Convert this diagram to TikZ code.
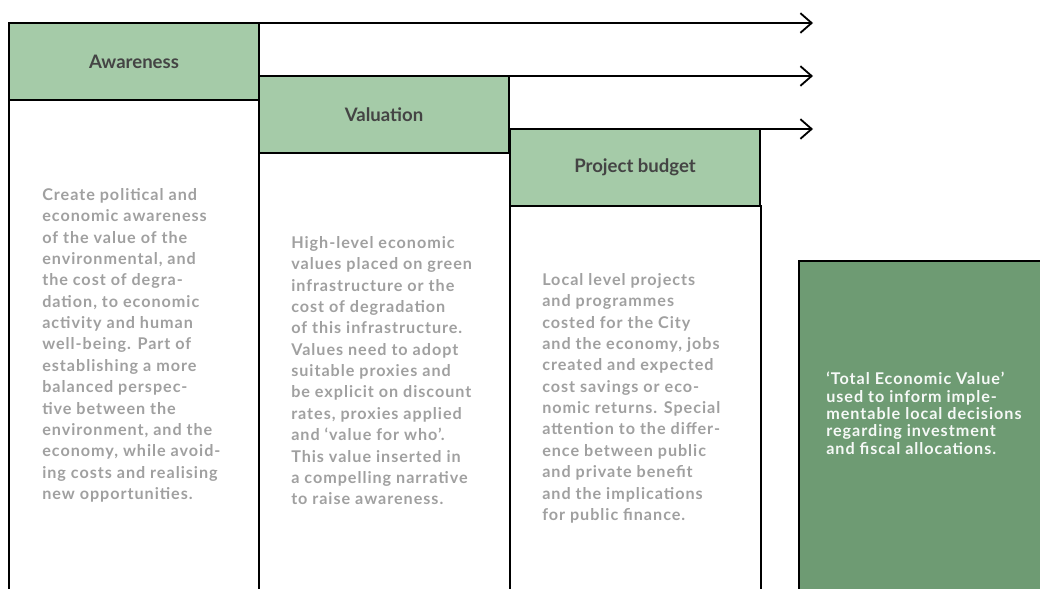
\documentclass[tikz,border=0pt]{standalone}
\usepackage{fontspec}
\setmainfont{Lato}
\newfontfamily\bodyfont[LetterSpace=6]{Lato}
\usetikzlibrary{arrows.meta}

\definecolor{headgreen}{HTML}{A5CBA8}
\definecolor{darkgreen}{HTML}{6E9B73}
\definecolor{headtext}{HTML}{444444}
\definecolor{bodytext}{HTML}{A0A0A0}

\tikzset{
  head/.style={draw, line width=1.3pt, fill=headgreen, text=headtext,
    font=\bfseries\fontsize{13.2}{16}\selectfont, anchor=north west,
    minimum width=6.25cm, minimum height=1.925cm, inner sep=0pt, outer sep=0pt},
  bodytxt/.style={anchor=north west, inner sep=0pt, align=left, text=bodytext,
    font=\bodyfont\bfseries\fontsize{11.5}{15.2}\selectfont},
  flow/.style={line width=1.3pt, -{Straight Barb[length=8pt, width=14pt, line width=1.3pt]}}
}

\begin{document}
\begin{tikzpicture}[x=0.025cm, y=-0.025cm]
\useasboundingbox (0,0) rectangle (1040,589);
\clip (0,0) rectangle (1040,589);

% columns
\draw[line width=1.3pt] (9,100) rectangle (259,640);
\draw[line width=1.3pt] (259,153) rectangle (510,640);
\draw[line width=1.3pt] (510,206) rectangle (761,640);
\draw[line width=1.3pt, fill=darkgreen] (799,261) rectangle (1080,640);

% headers
\node[head] (aware) at (9,23) {Awareness};
\node[head] (valu) at (259,76) {Valuation};
\node[head] (budget) at (510,129) {Project budget};

% arrows
\coordinate (end1) at (813,23);
\coordinate (end2) at (813,76);
\coordinate (end3) at (813,129);
\draw[flow] (aware.north west) -- (end1);
\draw[flow] (valu.north west) -- (end2);
\draw[flow] (budget.north west) -- (end3);

% texts
\node[bodytxt] (awaretxt) at (42,188) {Create political and\\economic awareness\\of the value of the\\environmental, and\\the cost of degra-\\dation, to economic\\activity and human\\well-being. Part of\\establishing a more\\balanced perspec-\\tive between the\\environment, and the\\economy, while avoid-\\ing costs and realising\\new opportunities.};
\node[bodytxt] (valutxt) at (291,236) {High-level economic\\values placed on green\\infrastructure or the\\cost of degradation\\of this infrastructure.\\Values need to adopt\\suitable proxies and\\be explicit on discount\\rates, proxies applied\\and ‘value for who’.\\This value inserted in\\a compelling narrative\\to raise awareness.};
\node[bodytxt] (budgettxt) at (542,273) {Local level projects\\and programmes\\costed for the City\\and the economy, jobs\\created and expected\\cost savings or eco-\\nomic returns. Special\\attention to the differ-\\ence between public\\and private benefit\\and the implications\\for public finance.};
\node[bodytxt, text=white!94!darkgreen, font=\bodyfont\bfseries\fontsize{11.5}{12.3}\selectfont] (tevtxt) at (826,372) {‘Total Economic Value’\\used to inform imple-\\mentable local decisions\\regarding investment\\and fiscal allocations.};
\end{tikzpicture}
\end{document}
